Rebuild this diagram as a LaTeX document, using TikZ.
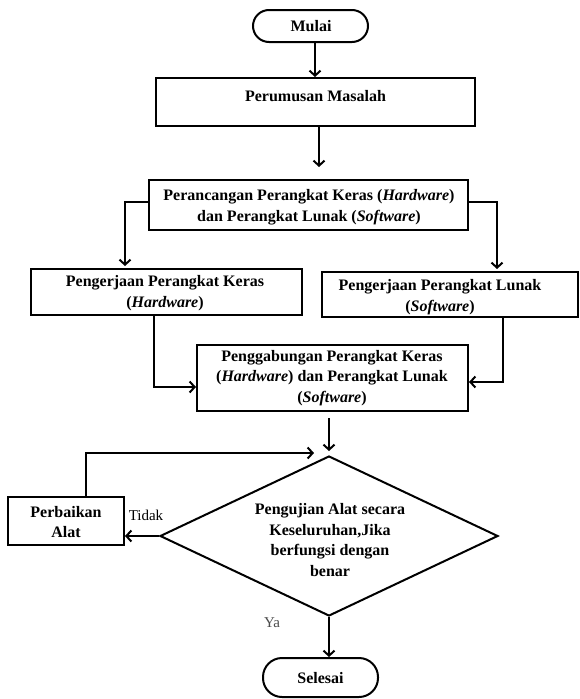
\documentclass[tikz,border=0pt]{standalone}
\usepackage{fontspec}
\setmainfont{Liberation Serif}
\usetikzlibrary{arrows.meta,shapes.geometric}
\begin{document}
\begin{tikzpicture}[x=1pt,y=-1pt,
 box/.style={draw, line width=2pt, inner sep=0pt},
 term/.style={draw, line width=2pt, inner sep=0pt},
 txt/.style={font=\bfseries\fontsize{16}{20.8}\selectfont, align=center, inner sep=0pt},
 lbl/.style={font=\fontsize{15}{18}\selectfont, inner sep=0pt},
 arr/.style={line width=2pt, -{Straight Barb[length=5pt,width=11pt,line width=2pt]}},
 ln/.style={line width=2pt}]
\useasboundingbox (0,0) rectangle (580,699);

% nodes
\node[term, rounded corners=16pt, minimum width=115pt, minimum height=32pt] (mulai) at (310.5,26) {};
\node[txt] (tmulai) at (311,26) {Mulai};

\node[box, minimum width=319pt, minimum height=48pt] (perumusan) at (315.5,102) {};
\node[txt] (tperumusan) at (315.5,96) {Perumusan Masalah};

\node[box, minimum width=319pt, minimum height=50pt] (perancangan) at (308.5,205) {};
\node[txt] (tperancangan) at (309,207) {Perancangan Perangkat Keras (\textit{Hardware})\\dan Perangkat Lunak (\textit{Software})};

\node[box, minimum width=271pt, minimum height=46pt] (keras) at (166.5,292) {};
\node[txt] (tkeras) at (165,293) {Pengerjaan Perangkat Keras\\(\textit{Hardware})};

\node[box, minimum width=256pt, minimum height=45pt] (lunak) at (450,294.5) {};
\node[txt] (tlunak) at (440,297) {Pengerjaan Perangkat Lunak\\(\textit{Software})};

\node[box, minimum width=271pt, minimum height=66pt] (gabung) at (332.5,378) {};
\node[txt] (tgabung) at (332,378) {Penggabungan Perangkat Keras\\(\textit{Hardware}) dan Perangkat Lunak\\(\textit{Software})};

\node[draw, diamond, line width=2pt, inner sep=0pt, minimum width=338pt, minimum height=160pt] (uji) at (329,536) {};
\node[txt] (tuji) at (330,540) {Pengujian Alat secara\\Keseluruhan,Jika\\berfungsi dengan\\benar};

\node[box, minimum width=116pt, minimum height=48pt] (perbaikan) at (66,521) {};
\node[txt] (tperbaikan) at (66,522) {Perbaikan\\Alat};

\node[term, rounded corners=19pt, minimum width=115pt, minimum height=39pt] (selesai) at (320.5,677.5) {};
\node[txt] (tselesai) at (320.5,678) {Selesai};

\node[lbl] (tidak) at (146,515) {Tidak};
\node[lbl, text=black!70] (ya) at (272,623) {Ya};

% connectors
\draw[arr] (mulai.south -| 315,0) -- (perumusan.north -| 315,0);
\draw[arr, shorten >=12pt] ([xshift=3.5pt]perumusan.south) -- ([xshift=10.5pt]perancangan.north);
\draw[arr, shorten >=2pt] ([yshift=3pt]perancangan.west) -| ([xshift=-41.5pt]keras.north);
\draw[arr, shorten >=2pt] ([yshift=3pt]perancangan.east) -| ([xshift=47pt]lunak.north);
\draw[arr] ([xshift=-12.5pt]keras.south) |- ([yshift=-9pt]gabung.west);
\draw[arr] ([xshift=53pt]lunak.south) |- ([yshift=-4pt]gabung.east);
\draw[arr, shorten <=6pt, shorten >=4pt] (gabung.south -| uji.north) -- (uji.north);
\draw[arr] ([xshift=20pt]perbaikan.north) |- ([xshift=-15pt,yshift=2pt]uji.north);
\draw[arr] (uji.west) -- (uji.west -| perbaikan.east);
\draw[arr] (uji.south) -- (uji.south |- selesai.north);
\end{tikzpicture}
\end{document}
